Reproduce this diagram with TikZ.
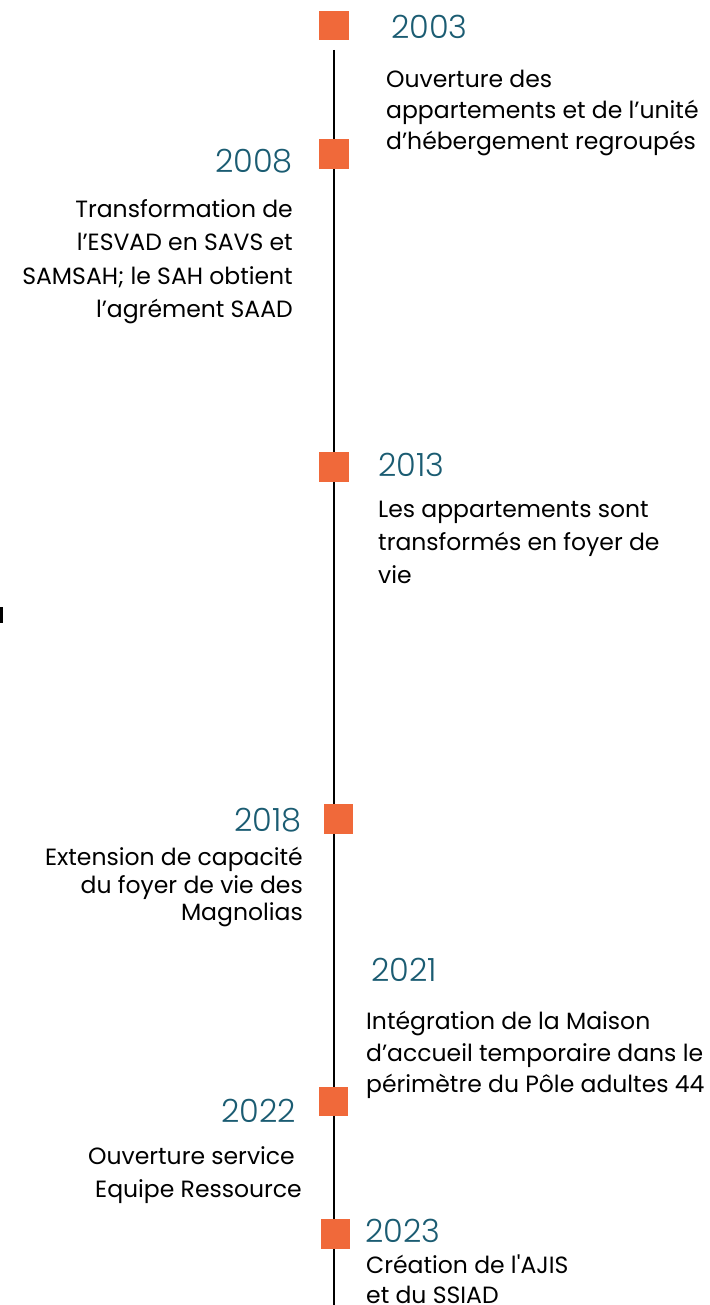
\documentclass[tikz,border=0pt]{standalone}
\usepackage{fontspec}
\setmainfont{Poppins}[Ligatures=TeXOff]
\newfontfamily\yearfont{Poppins Light}
\definecolor{orangebox}{HTML}{F0693A}
\definecolor{yearteal}{HTML}{1B5C72}
\newcommand{\topline}{\rule{0pt}{20pt}}

\begin{document}
\begin{tikzpicture}[x=1pt, y=-1pt,
    mark box/.style={fill=orangebox, minimum size=29.5pt, inner sep=0pt},
    year/.style={text=yearteal, font=\yearfont\fontsize{32}{32}\selectfont, inner sep=0pt},
    desc/.style={font=\fontsize{23.5}{#1}\selectfont, inner sep=0pt},
    desc/.default=33]
    \useasboundingbox (0,0) rectangle (709,1305);
    \coordinate (top) at (334,50);
    \coordinate (bottom) at (334,1305);
    \draw [black, line width=2pt] (top) -- (bottom);
    \fill [black] (0,607) rectangle (2.5,623);
    % 2003
    \node [mark box] (b2003) at (334,25.5) {};
    \node [year, anchor=base west] (y2003) at (391,39) {2003};
    \node [desc=31, align=left, anchor=north west] (t2003) at (386,67)
        {\topline Ouverture des\\appartements et de l’unité\\d’hébergement regroupés};
    % 2008
    \node [mark box] (b2008) at (334,154) {};
    \node [year, anchor=base east] (y2008) at (293,173) {2008};
    \node [desc=33.5, align=right, anchor=north east] (t2008) at (293,197)
        {\topline Transformation de\\l’ESVAD en SAVS et\\SAMSAH; le SAH obtient\\l’agrément SAAD};
    % 2013
    \node [mark box] (b2013) at (334,467) {};
    \node [year, anchor=base west] (y2013) at (378,476) {2013};
    \node [desc=33, align=left, anchor=north west] (t2013) at (378,497.5)
        {\topline Les appartements sont\\transformés en foyer de\\vie};
    % 2018
    \node [mark box] (b2018) at (338.5,819) {};
    \node [year, anchor=base east] (y2018) at (302,831) {2018};
    \node [desc=27.5, align=right, anchor=north east] (t2018) at (303,845.5)
        {\topline Extension de capacité\\du foyer de vie des\\Magnolias};
    % 2021
    \node [year, anchor=base west] (y2021) at (371,981) {2021};
    \node [desc=31.5, align=left, anchor=north west] (t2021) at (366,1009.5)
        {\topline Intégration de la Maison\\d’accueil temporaire dans le\\périmètre du Pôle adultes 44};
    % 2022
    \node [mark box] (b2022) at (333.5,1101.5) {};
    \node [year, anchor=base east] (y2022) at (296,1122) {2022};
    \node [desc=33, align=right, anchor=north east] (t2022) at (302,1144)
        {\topline Ouverture service\hspace*{7pt}\\Equipe Ressource};
    % 2023
    \node [mark box] (b2023) at (335.5,1234) {};
    \node [year, anchor=base west] (y2023) at (365,1242) {2023};
    \node [desc=30, align=left, anchor=north west] (t2023) at (366,1253)
        {\topline Création de l'AJIS\\et du SSIAD};
\end{tikzpicture}
\end{document}
